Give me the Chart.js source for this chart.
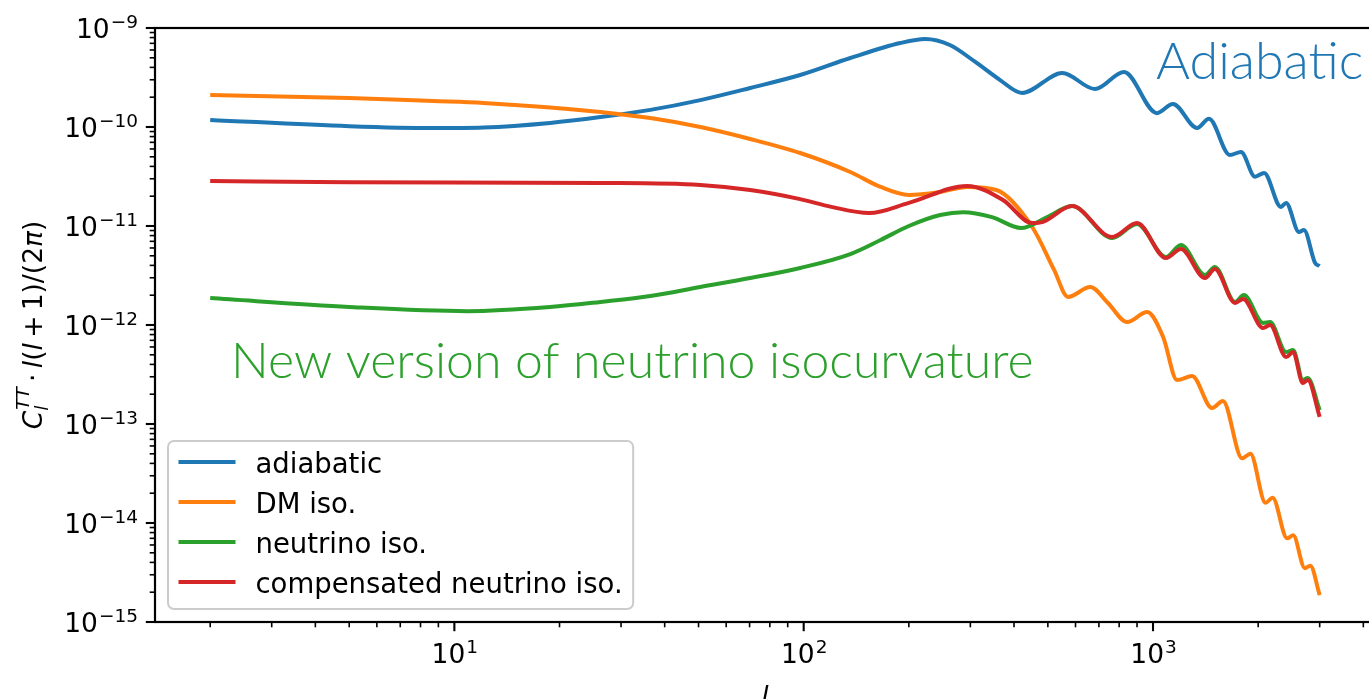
<!DOCTYPE html>
<html>
<head>
<meta charset="utf-8">
<script src="https://cdn.jsdelivr.net/npm/chart.js@4"></script>
<style>
html, body { margin: 0; padding: 0; background: #fff; overflow: hidden; }
canvas { display: block; }
</style>
</head>
<body>
<canvas id="clChart" width="1380" height="699"></canvas>
<script>
// C_l^TT * l(l+1)/(2pi)
const adiabaticL = [2, 5, 8.7, 12.1, 18.8, 26.2, 36.4, 50.6, 70.3, 97.7, 136, 189, 223, 262, 310, 365, 422,
    550, 682, 826, 1026, 1140, 1337, 1446, 1660, 1786, 1959, 2080, 2323, 2404, 2618, 2704, 2911, 3000];
const adiabaticC = [1.18e-10, 1.02e-10, 9.77e-11, 9.9e-11, 1.10e-10, 1.26e-10, 1.49e-10, 1.87e-10, 2.48e-10, 3.35e-10,
    4.98e-10, 7.05e-10, 7.74e-10, 6.73e-10, 4.54e-10, 2.98e-10, 2.21e-10,
    3.51e-10, 2.42e-10, 3.60e-10, 1.38e-10, 1.71e-10, 9.77e-11, 1.21e-10, 5.21e-11, 5.59e-11, 3.15e-11, 3.43e-11,
    1.56e-11, 1.71e-11, 8.70e-12, 9.12e-12, 4.23e-12, 3.95e-12];

const dmL = [2, 5, 8.7, 12.1, 26.2, 36.4, 50.6, 70.3, 97.7, 136, 166, 200, 246, 294, 356, 451, 521, 571, 661, 743,
    843, 962, 1069, 1172, 1294, 1476, 1585, 1800, 1900, 2100, 2200, 2420, 2520, 2720, 2820, 3000];
const dmC = [2.10e-10, 1.96e-10, 1.83e-10, 1.75e-10, 1.42e-10, 1.23e-10, 1.0e-10, 7.57e-11, 5.46e-11, 3.51e-11,
    2.48e-11, 2.06e-11, 2.21e-11, 2.48e-11, 2.31e-11, 9.77e-12, 3.60e-12, 1.92e-12, 2.42e-12, 1.67e-12,
    1.07e-12, 1.35e-12, 7.57e-13, 2.78e-13, 3.05e-13, 1.45e-13, 1.71e-13, 4.5e-14, 5.0e-14, 1.6e-14, 1.8e-14,
    7.0e-15, 7.5e-15, 3.5e-15, 3.7e-15, 1.87e-15];

const neutrinoL = [2, 5, 10.9, 18.8, 26.2, 36.4, 50.6, 70.3, 97.7, 136, 166, 200, 246, 286, 346, 419, 498, 586, 764, 900,
    1089, 1202, 1409, 1503, 1718, 1820, 2065, 2163, 2404, 2518, 2685, 2773, 3000];
const neutrinoC = [1.87e-12, 1.52e-12, 1.38e-12, 1.52e-12, 1.71e-12, 1.96e-12, 2.42e-12, 2.98e-12, 3.77e-12, 5.21e-12,
    7.22e-12, 1.0e-11, 1.29e-11, 1.38e-11, 1.23e-11, 9.55e-12, 1.23e-11, 1.59e-11, 7.57e-12, 1.05e-11,
    4.86e-12, 6.43e-12, 3.20e-12, 3.86e-12, 1.71e-12, 2.01e-12, 1.05e-12, 1.07e-12, 5.33e-13, 5.59e-13,
    2.78e-13, 2.92e-13, 1.38e-13];

const compL = [2, 5, 26.2, 50.6, 70.3, 97.7, 120, 154, 200, 294, 372, 451, 484, 586, 764, 900, 1089, 1202, 1409, 1503,
    1718, 1811, 2065, 2163, 2404, 2518, 2685, 2773, 3000];
const compC = [2.85e-11, 2.77e-11, 2.72e-11, 2.60e-11, 2.31e-11, 1.87e-11, 1.56e-11, 1.35e-11, 1.71e-11, 2.54e-11, 1.83e-11,
    1.07e-11, 1.10e-11, 1.59e-11, 7.74e-12, 1.07e-11, 4.75e-12, 5.86e-12, 2.98e-12, 3.68e-12,
    1.67e-12, 1.83e-12, 9.33e-13, 1.0e-12, 4.75e-13, 5.33e-13, 2.59e-13, 2.78e-13, 1.18e-13];

const seriesLabels = ["adiabatic", "DM iso.", "neutrino iso.", "compensated neutrino iso."];
const seriesColors = ["#1f77b4", "#ff7f0e", "#2ca02c", "#d62728"];

const yTickExponents = [-15, -14, -13, -12, -11, -10, -9];
const xTickExponents = [1, 2, 3];

const FONT = "'DejaVu Sans'";

function points(ls, cs) {
    return ls.map((l, i) => ({ x: l, y: cs[i] }));
}

function drawPower(ctx, exp, x, y, align) {
    const base = "10";
    const sup = (exp < 0 ? "\u2212" : "") + Math.abs(exp);
    ctx.font = "26.5px " + FONT;
    const wb = ctx.measureText(base).width;
    ctx.font = "18.5px " + FONT;
    const ws = ctx.measureText(sup).width;
    const left = align === "right" ? x - wb - ws : x - (wb + ws) / 2;
    ctx.font = "26.5px " + FONT;
    ctx.fillText(base, left, y);
    ctx.font = "18.5px " + FONT;
    ctx.fillText(sup, left + wb + 1, y - 10);
}

// matplotlib-like spines, log ticks and labels
const axesPlugin = {
    id: "mplAxes",
    afterDraw(chart) {
        const ctx = chart.ctx;
        const a = chart.chartArea;
        const xs = chart.scales.x;
        const ys = chart.scales.y;
        ctx.save();
        ctx.strokeStyle = "#000";
        ctx.fillStyle = "#000";

        // spines
        ctx.lineWidth = 2.2;
        ctx.strokeRect(a.left, a.top, a.right - a.left, a.bottom - a.top);

        // y ticks
        for (let n = yTickExponents[0]; n <= yTickExponents[yTickExponents.length - 1]; n++) {
            for (let k = 1; k <= 9; k++) {
                const v = Number(k + "e" + n);
                if (v < ys.min || v > ys.max) continue;
                const py = ys.getPixelForValue(v);
                ctx.lineWidth = k === 1 ? 2.1 : 1.6;
                const len = k === 1 ? 9.2 : 5.3;
                ctx.beginPath();
                ctx.moveTo(a.left, py);
                ctx.lineTo(a.left - len, py);
                ctx.stroke();
            }
        }
        // x ticks
        for (let n = 0; n <= 3; n++) {
            for (let k = 1; k <= 9; k++) {
                const v = Number(k + "e" + n);
                if (v < xs.min || v > xs.max) continue;
                const px = xs.getPixelForValue(v);
                ctx.lineWidth = k === 1 ? 2.1 : 1.6;
                const len = k === 1 ? 9.2 : 5.3;
                ctx.beginPath();
                ctx.moveTo(px, a.bottom);
                ctx.lineTo(px, a.bottom + len);
                ctx.stroke();
            }
        }

        ctx.textBaseline = "alphabetic";
        ctx.textAlign = "left";
        yTickExponents.forEach(n => {
            drawPower(ctx, n, a.left - 18, ys.getPixelForValue(Number("1e" + n)) + 10, "right");
        });
        xTickExponents.forEach(n => {
            drawPower(ctx, n, xs.getPixelForValue(Number("1e" + n)), a.bottom + 41, "center");
        });

        // x label
        ctx.font = "italic 26.5px " + FONT;
        ctx.textAlign = "center";
        ctx.fillText("l", (a.left + a.right) / 2, a.bottom + 83);

        // y label, mathtext-like pieces
        ctx.save();
        ctx.translate(42, (a.top + a.bottom) / 2);
        ctx.rotate(-Math.PI / 2);
        ctx.textAlign = "left";
        const it = "italic 26.5px " + FONT;
        const up = "26.5px " + FONT;
        const itS = "italic 18.5px " + FONT;
        const pieces = [
            [it, "C", 0, 0],
            [itS, "TT", 0, -13, "sup"],
            [itS, "l", 0, 6, "sub"],
            [up, "\u2009\u00b7\u2009", 0, 0],
            [it, "l", 0, 0],
            [up, "(", 0, 0],
            [it, "l", 0, 0],
            [up, "\u2009+\u2009", 0, 0],
            [up, "1)/(2", 0, 0],
            [it, "\u03c0", 0, 0],
            [up, ")", 0, 0]
        ];
        let total = 0;
        let scriptW = 0;
        pieces.forEach(p => {
            ctx.font = p[0];
            const w = ctx.measureText(p[1]).width;
            if (p[4] === "sup") { scriptW = w; }
            else if (p[4] === "sub") { total += Math.max(scriptW, w) + 1; }
            else total += w;
        });
        let cx = -total / 2;
        let supStart = 0;
        pieces.forEach(p => {
            ctx.font = p[0];
            const w = ctx.measureText(p[1]).width;
            if (p[4] === "sup") {
                supStart = cx;
                ctx.fillText(p[1], cx + 1, p[3]);
                scriptW = w;
            } else if (p[4] === "sub") {
                ctx.fillText(p[1], supStart, p[3]);
                cx = supStart + Math.max(scriptW, w) + 1;
            } else {
                ctx.fillText(p[1], cx, p[3]);
                cx += w;
            }
        });
        ctx.restore();

        // annotations
        ctx.textAlign = "left";
        ctx.font = "300 52px Lato";
        ctx.fillStyle = "#1f77b4";
        ctx.fillText("Adiabatic", 1156, 79);
        ctx.font = "300 50px Lato";
        ctx.fillStyle = "#2ca02c";
        ctx.fillText("New version of neutrino isocurvature", 231, 378);

        // legend, lower left
        const fs = 27.5;
        ctx.font = fs + "px " + FONT;
        let maxW = 0;
        chart.data.datasets.forEach(d => { maxW = Math.max(maxW, ctx.measureText(d.label).width); });
        const boxL = a.left + 13;
        const boxB = a.bottom - 13;
        const boxW = 10.5 + 53 + 24 + maxW + 10.5;
        const rowH = 40;
        const boxH = 10.5 * 2 + rowH * 4 - 13;
        const boxT = boxB - boxH;
        ctx.beginPath();
        ctx.roundRect(boxL, boxT, boxW, boxH, 6);
        ctx.fillStyle = "rgba(255,255,255,0.8)";
        ctx.fill();
        ctx.lineWidth = 2;
        ctx.strokeStyle = "#cccccc";
        ctx.stroke();
        chart.data.datasets.forEach((d, i) => {
            const rowY = boxT + 21 + i * rowH;
            ctx.strokeStyle = d.borderColor;
            ctx.lineWidth = 4;
            ctx.lineCap = "square";
            ctx.beginPath();
            ctx.moveTo(boxL + 12.5, rowY);
            ctx.lineTo(boxL + 12.5 + 53, rowY);
            ctx.stroke();
            ctx.fillStyle = "#000";
            ctx.font = fs + "px " + FONT;
            ctx.fillText(d.label, boxL + 10.5 + 53 + 24, rowY + 11);
        });
        ctx.restore();
    }
};

const seriesData = [
    points(adiabaticL, adiabaticC),
    points(dmL, dmC),
    points(neutrinoL, neutrinoC),
    points(compL, compC)
];

new Chart(document.getElementById("clChart"), {
    type: "line",
    data: {
        datasets: seriesData.map((pts, i) => ({
            label: seriesLabels[i],
            data: pts,
            borderColor: seriesColors[i],
            backgroundColor: seriesColors[i],
            borderWidth: 4,
            pointRadius: 0,
            fill: false,
            cubicInterpolationMode: "monotone",
            borderJoinStyle: "round",
            order: 4 - i
        }))
    },
    options: {
        responsive: false,
        animation: false,
        layout: { padding: { left: 155, top: 28, right: 5, bottom: 77 } },
        plugins: { legend: { display: false }, tooltip: { enabled: false } },
        scales: {
            x: { type: "logarithmic", display: false, min: 1.39, max: 4320 },
            y: { type: "logarithmic", display: false, min: 1e-15, max: 1e-9 }
        }
    },
    plugins: [axesPlugin]
});
</script>
</body>
</html>
